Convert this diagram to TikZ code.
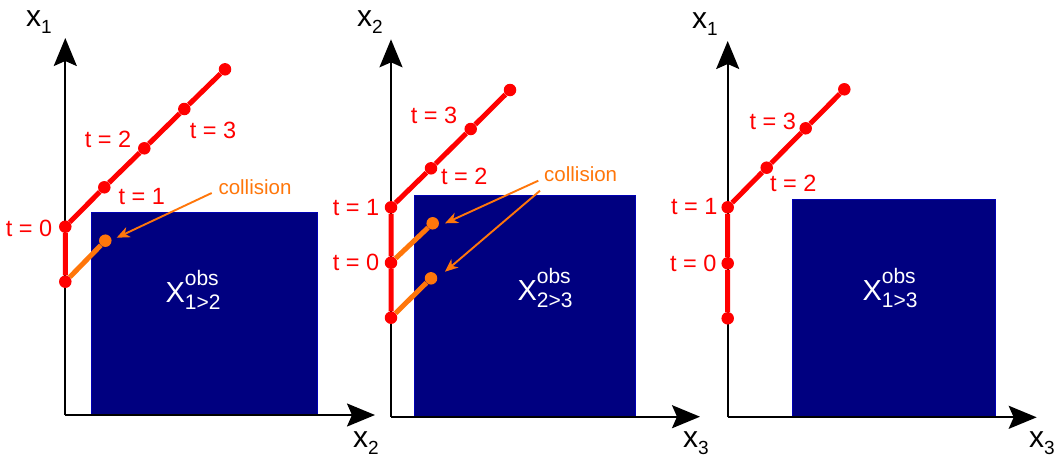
\documentclass[tikz,border=0pt]{standalone}
\usepackage{fontspec}
\setmainfont{Liberation Sans}
\usetikzlibrary{arrows.meta}

\definecolor{trajred}{RGB}{255,0,0}
\definecolor{hitorange}{RGB}{255,118,10}
\definecolor{obsblue}{RGB}{0,0,128}

\newcommand{\axname}[2]{x\raisebox{-7pt}{\fontsize{19}{20}\selectfont #2}}
\newcommand{\obsname}[1]{X\rlap{\raisebox{17pt}{\fontsize{21}{22}\selectfont obs}}\raisebox{-7pt}{\fontsize{21}{22}\selectfont #1}}

\begin{document}
\begin{tikzpicture}[x=1pt, y=-1pt,
    axis/.style={line width=2.1pt, -{Stealth[length=28pt, width=23pt, inset=5pt]}},
    axlabel/.style={font=\fontsize{30}{30}\selectfont, inner sep=0pt},
    obstacle/.style={fill=obsblue, draw=blue!40!obsblue, line width=0.6pt},
    obslabel/.style={text=white, font=\fontsize{29}{30}\selectfont, inner sep=0pt},
    state/.style={circle, fill=trajred, inner sep=0pt, minimum size=12.5pt},
    crash/.style={circle, fill=hitorange, inner sep=0pt, minimum size=12.5pt},
    traj/.style={trajred, line width=5pt},
    badtraj/.style={hitorange, line width=5pt},
    tlabel/.style={text=trajred, font=\fontsize{23.5}{24}\selectfont, inner sep=0pt},
    note/.style={text=hitorange, font=\fontsize{20.5}{22}\selectfont, inner sep=0pt},
    pointer/.style={hitorange, line width=1.9pt, -{Stealth[length=13pt, width=11pt, inset=4pt]}}
]
\useasboundingbox (0,0) rectangle (1062,461);

% panel 1: x1 over x2
\draw[obstacle] (91,212) rectangle (317,415);
\coordinate (o1) at (65.3,415);
\coordinate (top1) at (65.3,38);
\coordinate (right1) at (375,415);
\draw[axis] (o1) -- (top1);
\draw[axis] (o1) -- (right1);
\node[axlabel] (lx1) at (39,22) {\axname{x}{1}};
\node[axlabel] (lx2) at (366,443) {\axname{x}{2}};
\node[obslabel] (obs12) at (193,290) {\obsname{1>2}};

\node[state] (a0) at (65.3,281.7) {};
\node[state] (a1) at (65.3,226.7) {};
\node[state] (a2) at (104.3,187.3) {};
\node[state] (a3) at (144.3,148.3) {};
\node[state] (a4) at (184.3,109) {};
\node[state] (a5) at (225,69.3) {};
\node[crash] (ax) at (105.3,240.7) {};
\draw[traj] (a0) -- (a1) -- (a2) -- (a3) -- (a4) -- (a5);
\draw[badtraj] (a0) -- (ax);

\node[tlabel] (ta0) at (29,228) {t = 0};
\node[tlabel] (ta1) at (141.7,197) {t = 1};
\node[tlabel] (ta2) at (108,139) {t = 2};
\node[tlabel] (ta3) at (213,130) {t = 3};
\node[note] (hit1) at (255,187) {collision};
\coordinate (from1) at (211.7,193);
\coordinate (tip1) at (116.7,237.7);
\draw[pointer] (from1) -- (tip1);

% panel 2: x2 over x3
\draw[obstacle] (414.3,195.7) rectangle (635.7,416.7);
\coordinate (o2) at (391,416.7);
\coordinate (top2) at (391,39.3);
\coordinate (right2) at (700,416.7);
\draw[axis] (o2) -- (top2);
\draw[axis] (o2) -- (right2);
\node[axlabel] (ly2) at (370,22) {\axname{x}{2}};
\node[axlabel] (ly3) at (696,443) {\axname{x}{3}};
\node[obslabel] (obs23) at (545,288) {\obsname{2>3}};

\node[state] (b0) at (391,317.7) {};
\node[state] (b1) at (391,262.7) {};
\node[state] (b2) at (391,207.3) {};
\node[state] (b3) at (431,168.3) {};
\node[state] (b4) at (470.7,129) {};
\node[state] (b5) at (510,90) {};
\node[crash] (bx1) at (432.7,223.3) {};
\node[crash] (bx0) at (431,278.3) {};
\draw[traj] (b0) -- (b1) -- (b2) -- (b3) -- (b4) -- (b5);
\draw[badtraj] (b1) -- (bx1);
\draw[badtraj] (b0) -- (bx0);

\node[tlabel] (tb0) at (356,262.7) {t = 0};
\node[tlabel] (tb1) at (356,208) {t = 1};
\node[tlabel] (tb2) at (464.3,176.7) {t = 2};
\node[tlabel] (tb3) at (434,115) {t = 3};
\node[note] (hit2) at (580.7,174) {collision};
\coordinate (from2a) at (538.3,180.7);
\coordinate (from2b) at (540,190.7);
\coordinate (tip2a) at (445,223.3);
\coordinate (tip2b) at (445,271.7);
\draw[pointer] (from2a) -- (tip2a);
\draw[pointer] (from2b) -- (tip2b);

% panel 3: x1 over x3
\draw[obstacle] (792.3,199.3) rectangle (995.7,417.3);
\coordinate (o3) at (727.7,417.3);
\coordinate (top3) at (727.7,41);
\coordinate (right3) at (1036.7,417.3);
\draw[axis] (o3) -- (top3);
\draw[axis] (o3) -- (right3);
\node[axlabel] (lz1) at (705,24) {\axname{x}{1}};
\node[axlabel] (lz3) at (1042,443) {\axname{x}{3}};
\node[obslabel] (obs13) at (890,288) {\obsname{1>3}};

\node[state] (c0) at (727.7,318.3) {};
\node[state] (c1) at (727.7,263.3) {};
\node[state] (c2) at (727.7,207.3) {};
\node[state] (c3) at (766.7,167.7) {};
\node[state] (c4) at (805.7,128.3) {};
\node[state] (c5) at (844.3,89.3) {};
\draw[traj] (c0) -- (c1) -- (c2) -- (c3) -- (c4) -- (c5);

\node[tlabel] (tc0) at (693.3,263.3) {t = 0};
\node[tlabel] (tc1) at (694.3,206.7) {t = 1};
\node[tlabel] (tc2) at (793.3,183.3) {t = 2};
\node[tlabel] (tc3) at (772.7,121.7) {t = 3};
\end{tikzpicture}
\end{document}
